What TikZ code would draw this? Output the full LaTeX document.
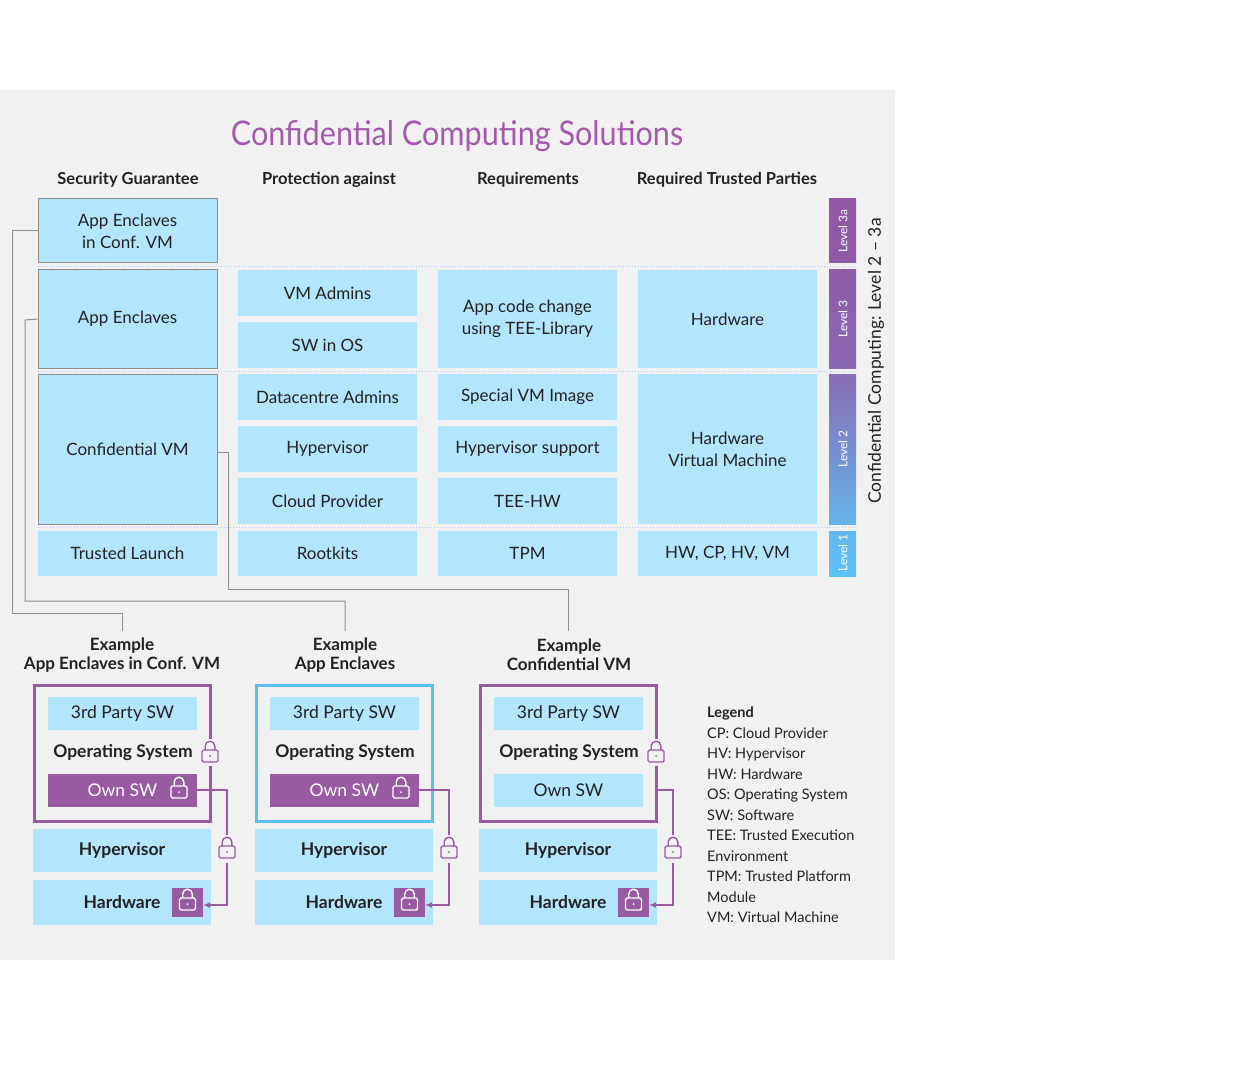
\documentclass[tikz,border=0pt]{standalone}
\usepackage{fontspec}
\setmainfont{Lato}
\usetikzlibrary{arrows.meta}
\definecolor{lb}{HTML}{B3E5FC}
\definecolor{pu}{HTML}{985AA0}
\definecolor{tpu}{HTML}{A35AAB}
\definecolor{bgc}{HTML}{F1F1F1}
\definecolor{gl}{HTML}{8E8E8E}
\definecolor{lvp}{HTML}{9257A4}
\definecolor{lvb}{HTML}{5DC2F6}
\definecolor{cb}{HTML}{5BC0F0}
\definecolor{txt}{HTML}{222222}
\tikzset{
 box/.style={fill=lb,inner sep=0pt,align=center,font=\fontsize{17}{22}\selectfont,text=txt},
 gbox/.style={box,draw=gl,line width=1pt},
 hdr/.style={font=\fontsize{16.5}{20}\selectfont\bfseries,text=txt,align=center},
 conn/.style={draw=gl,line width=1pt},
 pconn/.style={draw=pu,line width=1.2pt},
 dotl/.style={draw=lb!70!blue!60,line width=1pt,dotted},
 lvl/.style={font=\fontsize{12}{12}\selectfont,text=white,rotate=90},
}
\newcommand{\mybox}[6]{% name, x1, y1, x2, y2, style+text
 \node[#6,minimum width={(#4-#2)*1pt},minimum height={(#5-#3)*1pt}] (#1) at ({(#2+#4)/2},{(#3+#5)/2})}
\newcommand{\lock}[3]{% cx, cy, color
 \draw[#3,line width=1.4pt,fill=none] (#1-4.8,#2-2) -- (#1-4.8,#2-6) arc(180:360:4.8) -- (#1+4.8,#2-2);
 \draw[#3,line width=1.4pt,rounded corners=1.5pt] (#1-8,#2-2) rectangle (#1+8,#2+10);
 \fill[#3] (#1,#2+4) circle (1pt);}
\begin{document}
\begin{tikzpicture}[x=1pt,y=-1pt]
\useasboundingbox (0,0) rectangle (1256,1067);
\fill[white] (0,0) rectangle (1256,1067);
\fill[bgc] (0,90) rectangle (895,960);
\node[text=tpu,font=\fontsize{34}{40}\selectfont] (title) at (457,136) {\scalebox{0.9}[1]{Confidential Computing Solutions}};
\node[hdr] (h1) at (128,180) {Security Guarantee};
\node[hdr] (h2) at (329,180) {Protection against};
\node[hdr] (h3) at (528,180) {Requirements};
\node[hdr] (h4) at (727,180) {Required Trusted Parties};
% dotted separators
\foreach \yy in {267,371,527} \draw[dotl] (38,\yy) -- (856,\yy);
% column 1
\mybox{c1a}{38}{199}{217}{263}{gbox}{App Enclaves\\in Conf. VM};
\mybox{c1b}{38}{270}{217}{368}{gbox}{App Enclaves};
\mybox{c1c}{38}{374}{217}{524}{gbox}{Confidential VM};
\mybox{c1d}{38}{531}{217}{576}{box}{Trusted Launch};
% column 2
\mybox{c2a}{238}{270}{417}{316}{box}{VM Admins};
\mybox{c2b}{238}{322}{417}{368}{box}{SW in OS};
\mybox{c2c}{238}{374}{417}{420}{box}{Datacentre Admins};
\mybox{c2d}{238}{426}{417}{472}{box}{Hypervisor};
\mybox{c2e}{238}{478}{417}{524}{box}{Cloud Provider};
\mybox{c2f}{238}{531}{417}{576}{box}{Rootkits};
% column 3
\mybox{c3a}{438}{270}{617}{368}{box}{App code change\\using TEE-Library};
\mybox{c3b}{438}{374}{617}{420}{box}{Special VM Image};
\mybox{c3c}{438}{426}{617}{472}{box}{Hypervisor support};
\mybox{c3d}{438}{478}{617}{524}{box}{TEE-HW};
\mybox{c3e}{438}{531}{617}{576}{box}{TPM};
% column 4
\mybox{c4a}{638}{270}{817}{368}{box}{Hardware};
\mybox{c4b}{638}{374}{817}{524}{box}{Hardware\\Virtual Machine};
\mybox{c4c}{638}{531}{817}{576}{box}{HW, CP, HV, VM};
% level bars
\shade[top color=lvp,bottom color=lvp!97!lvb] (829,199) rectangle (856,263);
\shade[top color=lvp!96!lvb,bottom color=lvp!85!lvb] (829,270) rectangle (856,368);
\shade[top color=lvp!80!lvb,bottom color=lvp!15!lvb] (829,374) rectangle (856,524);
\shade[top color=lvp!10!lvb,bottom color=lvb] (829,531) rectangle (856,576);
\node[lvl] (l3a) at (843,231) {Level 3a};
\node[lvl] (l3) at (843,319) {Level 3};
\node[lvl] (l2) at (843,449) {Level 2};
\node[lvl] (l1) at (843,553) {Level 1};
\node[rotate=90,font=\fontsize{17.5}{20}\selectfont,text=txt] (cclab) at (876,361) {Confidential Computing: Level 2 – 3a};
% examples headers
\node[hdr,font=\fontsize{17}{19}\selectfont\bfseries] (e1) at (122,655) {Example\\App Enclaves in Conf. VM};
\node[hdr,font=\fontsize{17}{19}\selectfont\bfseries] (e2) at (345,655) {Example\\App Enclaves};
\node[hdr,font=\fontsize{17}{19}\selectfont\bfseries] (e3) at (569,655) {Example\\Confidential VM};
% gray connectors
\draw[conn] (c1a.west|-0,231) -- (12,231) -- (12,613) -- (122,613) -- (122,631);
\draw[conn] (c1b.west) -- (25,320) -- (25,601) -- (345,601) -- (345,631);
\draw[conn] (c1c.east|-0,452) -- (228,452) -- (228,589) -- (568,589) -- (568,631);
% examples
\foreach \n/\dx/\oc/\own in {A/0/pu/1,B/222/cb/1,C/446/pu/0}{
 \begin{scope}[xshift=\dx]
 \draw[\oc,line width=3pt] (34,685) rectangle (210,821);
 \mybox{thp\n}{48}{697}{197}{730}{box,font=\fontsize{17.5}{20}\selectfont}{3rd Party SW};
 \node[hdr,font=\fontsize{17.5}{20}\selectfont\bfseries] (os\n) at (123,753) {Operating System};
 \ifnum\own=1
  \mybox{own\n}{48}{774}{197}{807}{box,fill=pu,text=white,font=\fontsize{17.5}{20}\selectfont}{Own SW};
  \lock{179}{788}{white}
 \else
  \mybox{own\n}{48}{774}{197}{807}{box,font=\fontsize{17.5}{20}\selectfont}{Own SW};
 \fi
 \mybox{hyp\n}{33}{829}{211}{872}{box,font=\fontsize{17.5}{20}\selectfont\bfseries}{Hypervisor};
 \mybox{hw\n}{33}{880}{211}{925}{box,font=\fontsize{17.5}{20}\selectfont\bfseries}{Hardware};
 \mybox{hwl\n}{172}{888}{203}{917}{box,fill=pu}{};
 \lock{187.5}{900}{white}
 \coordinate (cs\n) at (\ifnum\own=1 197\else 211\fi,790);
 \draw[pconn,-{Latex[length=7pt,width=6pt]}] (cs\n) -- (227,790) -- (227,905) -- (hwl\n.east|-0,905);
 \fill[bgc] (218,835) rectangle (236,863);
 \lock{227}{848}{pu}
 \ifnum\dx=222 \else \fill[bgc] (201,739) rectangle (219,766); \lock{210}{752}{pu}\fi
 \end{scope}}
% legend
\node[anchor=north west,align=left,font=\fontsize{14.5}{20.5}\selectfont,text=txt,inner sep=0pt] (leg) at (707,707)
 {\textbf{Legend}\\CP: Cloud Provider\\HV: Hypervisor\\HW: Hardware\\OS: Operating System\\SW: Software\\TEE: Trusted Execution\\Environment\\TPM: Trusted Platform\\Module\\VM: Virtual Machine};
\end{tikzpicture}
\end{document}
